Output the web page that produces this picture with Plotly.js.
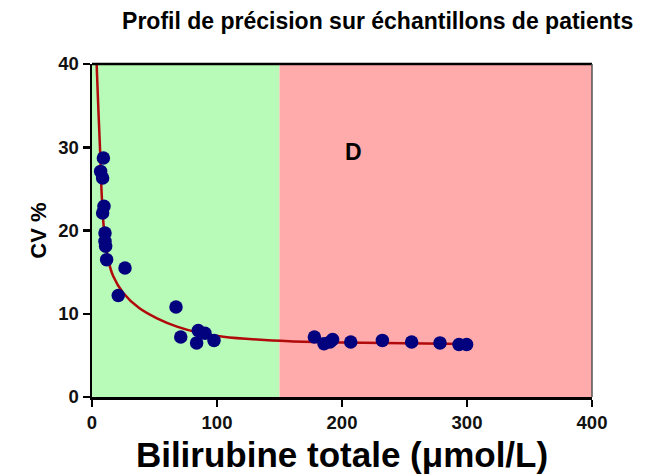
<!DOCTYPE html>
<html>
<head>
<meta charset="utf-8">
<script src="https://cdn.plot.ly/plotly-3.0.1.min.js"></script>
<style>
  html, body { margin: 0; padding: 0; background: #ffffff; }
  #chart { width: 658px; height: 476px; }
</style>
</head>
<body>
<div id="chart"></div>
<script>
// Patient samples: total bilirubin (µmol/L) vs. measured CV (%)
const bilirubin = [9.1, 6.9, 8.5, 9.6, 8.5, 10.4, 10.4, 10.9, 11.7, 26.4, 21.0,
                   67.2, 71.0, 85.0, 90.4, 83.7, 97.6,
                   177.9, 185.6, 190.4, 192.5, 207.0, 232.3, 255.7, 278.4, 293.6, 299.7];
const cvPercent = [28.7, 27.1, 26.3, 22.9, 22.1, 19.7, 18.7, 18.1, 16.5, 15.5, 12.2,
                   10.8, 7.2, 8.0, 7.65, 6.5, 6.8,
                   7.2, 6.4, 6.6, 6.9, 6.6, 6.8, 6.6, 6.5, 6.3, 6.3];

// Fitted precision profile, sampled along the curve
const fitX = [3.7, 5.1, 6.4, 7.7, 9.6, 13, 17, 25, 38, 52, 68, 86, 105, 132, 158, 200, 250, 300];
const fitY = [40, 34.5, 29.9, 24.5, 20.1, 16.5, 14.5, 12.5, 10.65, 9.45, 8.45, 7.7, 7.25, 6.9, 6.7, 6.55, 6.45, 6.37];

// Concentration zones (acceptable / outside)
const zoneEdges = [0, 150, 400];
const zoneColors = ['#b8fbb8', '#ffabab'];
const zoneLabel = {text: 'D', x: 209, y: 29.4};

const xTicks = [0, 100, 200, 300, 400];
const yTicks = [0, 10, 20, 30, 40];

const FONT = '"Liberation Sans", Arial, Helvetica, sans-serif';

const shapes = zoneColors.map((c, i) => ({
  type: 'rect', xref: 'x', yref: 'y', layer: 'below',
  x0: zoneEdges[i], x1: zoneEdges[i + 1], y0: yTicks[0], y1: yTicks[yTicks.length - 1],
  fillcolor: c, line: {width: 0}
}));
// frame: top and right edges
shapes.push({type: 'line', xref: 'paper', yref: 'paper', x0: 0, x1: 1, y0: 1, y1: 1,
             line: {color: '#000000', width: 2.5}});
shapes.push({type: 'line', xref: 'paper', yref: 'paper', x0: 1, x1: 1, y0: 0, y1: 1,
             line: {color: '#555555', width: 1.5}});

const traces = [
  {
    x: fitX, y: fitY, type: 'scatter', mode: 'lines',
    line: {color: '#b10a0a', width: 2.5, shape: 'spline', smoothing: 1},
    hoverinfo: 'skip', showlegend: false
  },
  {
    x: bilirubin, y: cvPercent, type: 'scatter', mode: 'markers',
    marker: {color: '#02027e', size: 13.5, line: {width: 0}},
    cliponaxis: false, showlegend: false
  }
];

const layout = {
  width: 658, height: 476,
  margin: {l: 92, r: 66, t: 64, b: 79, pad: 0},
  paper_bgcolor: '#ffffff', plot_bgcolor: '#ffffff',
  font: {family: FONT, color: '#000000'},
  title: {
    text: '<b>Profil de précision sur échantillons de patients</b>',
    font: {family: FONT, size: 23, color: '#000000'},
    xref: 'container', x: 0.574, xanchor: 'center',
    yref: 'container', y: 0.956, yanchor: 'middle'
  },
  xaxis: {
    range: [zoneEdges[0], zoneEdges[2]], tickvals: xTicks, ticktext: xTicks.map(v => '<b>' + v + '</b>'),
    showgrid: false, zeroline: false, showline: true, linecolor: '#000000', linewidth: 2.5,
    ticks: 'outside', ticklen: 7, tickwidth: 2.5, tickcolor: '#000000',
    tickfont: {family: FONT, size: 18.5, color: '#111111'},
    title: {text: '<b>Bilirubine totale (μmol/L)</b>', font: {family: FONT, size: 35, color: '#000000'}, standoff: 11}
  },
  yaxis: {
    range: [yTicks[0], yTicks[yTicks.length - 1]], tickvals: yTicks, ticktext: yTicks.map(v => '<b>' + v + '</b>'),
    showgrid: false, zeroline: false, showline: true, linecolor: '#000000', linewidth: 2.5,
    ticks: 'outside', ticklen: 7, tickwidth: 2.5, tickcolor: '#000000',
    tickfont: {family: FONT, size: 18.5, color: '#111111'},
    title: {text: '<b>CV %</b>', font: {family: FONT, size: 22, color: '#000000'}, standoff: 6}
  },
  shapes: shapes,
  annotations: [{
    x: zoneLabel.x, y: zoneLabel.y, xref: 'x', yref: 'y', showarrow: false,
    text: '<b>' + zoneLabel.text + '</b>', font: {family: FONT, size: 23, color: '#000000'}
  }]
};

Plotly.newPlot('chart', traces, layout, {displayModeBar: false, staticPlot: true});
</script>
</body>
</html>
